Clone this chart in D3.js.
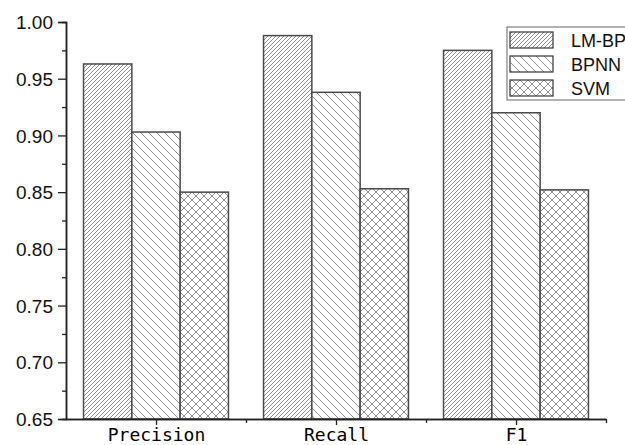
<!DOCTYPE html>
<html>
<head>
<meta charset="utf-8">
<script src="https://cdn.jsdelivr.net/npm/d3@7"></script>
<style>
  body { margin: 0; background: #fff; }
  svg { display: block; }
</style>
</head>
<body>
<div id="chart"></div>
<script>
// data
var categories = ["Precision", "Recall", "F1"];
var seriesNames = ["LM-BP", "BPNN", "SVM"];
var lmbp = [0.963, 0.988, 0.975];
var bpnn = [0.903, 0.938, 0.920];
var svmv = [0.850, 0.853, 0.852];
var yTicks = [0.65, 0.70, 0.75, 0.80, 0.85, 0.90, 0.95, 1.00];

var W = 625, H = 445;
var svg = d3.select("#chart").append("svg")
  .attr("width", W).attr("height", H);

// hatch patterns
var defs = svg.append("defs");
function hatch(id, size, paths) {
  var p = defs.append("pattern")
    .attr("id", id)
    .attr("patternUnits", "userSpaceOnUse")
    .attr("width", size).attr("height", size);
  p.append("rect").attr("width", size).attr("height", size).attr("fill", "#fff");
  paths.forEach(function (d) {
    p.append("path").attr("d", d)
      .attr("stroke", "#909090").attr("stroke-width", 1).attr("fill", "none");
  });
}
hatch("pLM", 4, ["M0,4 L4,0", "M-1,1 L1,-1", "M3,5 L5,3"]);
hatch("pBP", 8, ["M0,0 L8,8", "M-2,6 L2,10", "M6,-2 L10,2"]);
hatch("pSV", 8, ["M0,0 L8,8", "M0,8 L8,0", "M-2,6 L2,10", "M6,-2 L10,2", "M-2,2 L2,-2", "M6,10 L10,6"]);
var fills = ["url(#pLM)", "url(#pBP)", "url(#pSV)"];

var x = d3.scaleLinear().domain([0.5, 3.5]).range([66, 606]);
var y = d3.scaleLinear().domain([0.65, 1.00]).range([419, 22]);
var bw = 48.3;

var data = [];
categories.forEach(function (c, i) {
  [lmbp, bpnn, svmv].forEach(function (s, j) {
    data.push({ cat: i, ser: j, v: s[i] });
  });
});

svg.append("g").selectAll("rect")
  .data(data).enter().append("rect")
  .attr("x", function (d) { return x(d.cat + 1) - 1.5 * bw + d.ser * bw; })
  .attr("y", function (d) { return y(d.v); })
  .attr("width", bw)
  .attr("height", function (d) { return y(0.65) - y(d.v); })
  .attr("fill", function (d) { return fills[d.ser]; })
  .attr("stroke", "#4a4a4a").attr("stroke-width", 1.5);

// Y axis
var yAxis = svg.append("g").attr("transform", "translate(66,0)")
  .call(d3.axisLeft(y).tickValues(yTicks).tickFormat(d3.format(".2f")).tickSize(8).tickPadding(5));
var yMinor = d3.range(0.675, 1.0, 0.05);
svg.append("g").attr("transform", "translate(66,0)")
  .call(d3.axisLeft(y).tickValues(yMinor).tickSize(4).tickFormat(""));

// X axis
var xAxis = svg.append("g").attr("transform", "translate(0,419)")
  .call(d3.axisBottom(x).tickValues([1, 2, 3]).tickFormat(function (d) { return categories[d - 1]; })
    .tickSize(6).tickSizeOuter(0).tickPadding(6));
svg.append("g").attr("transform", "translate(0,419)")
  .call(d3.axisBottom(x).tickValues([1.5, 2.5, 3.5]).tickSize(4).tickFormat("").tickSizeOuter(0));

svg.selectAll(".domain").attr("stroke", "#222").attr("stroke-width", 1.5);
svg.selectAll(".tick line").attr("stroke", "#222").attr("stroke-width", 1.3);
yAxis.selectAll("text").attr("font-family", "Liberation Sans, Arial, sans-serif")
  .attr("font-size", 19).attr("fill", "#111").attr("dy", "0.35em");
xAxis.selectAll("text").attr("font-family", "DejaVu Sans Mono, monospace")
  .attr("font-size", 18).attr("fill", "#000").attr("dy", null).attr("y", 22);

// legend
var lg = svg.append("g");
lg.append("rect").attr("x", 507).attr("y", 27).attr("width", 130).attr("height", 73)
  .attr("fill", "#fff").attr("stroke", "#666").attr("stroke-width", 1);
seriesNames.forEach(function (n, j) {
  var yy = 32 + j * 24;
  lg.append("rect").attr("x", 510).attr("y", yy).attr("width", 43).attr("height", 16)
    .attr("fill", fills[j]).attr("stroke", "#444").attr("stroke-width", 1.3);
  lg.append("text").attr("x", 571).attr("y", yy + 15).text(n)
    .attr("font-family", "Liberation Sans, Arial, sans-serif").attr("font-size", 18).attr("fill", "#111");
});
</script>
</body>
</html>
